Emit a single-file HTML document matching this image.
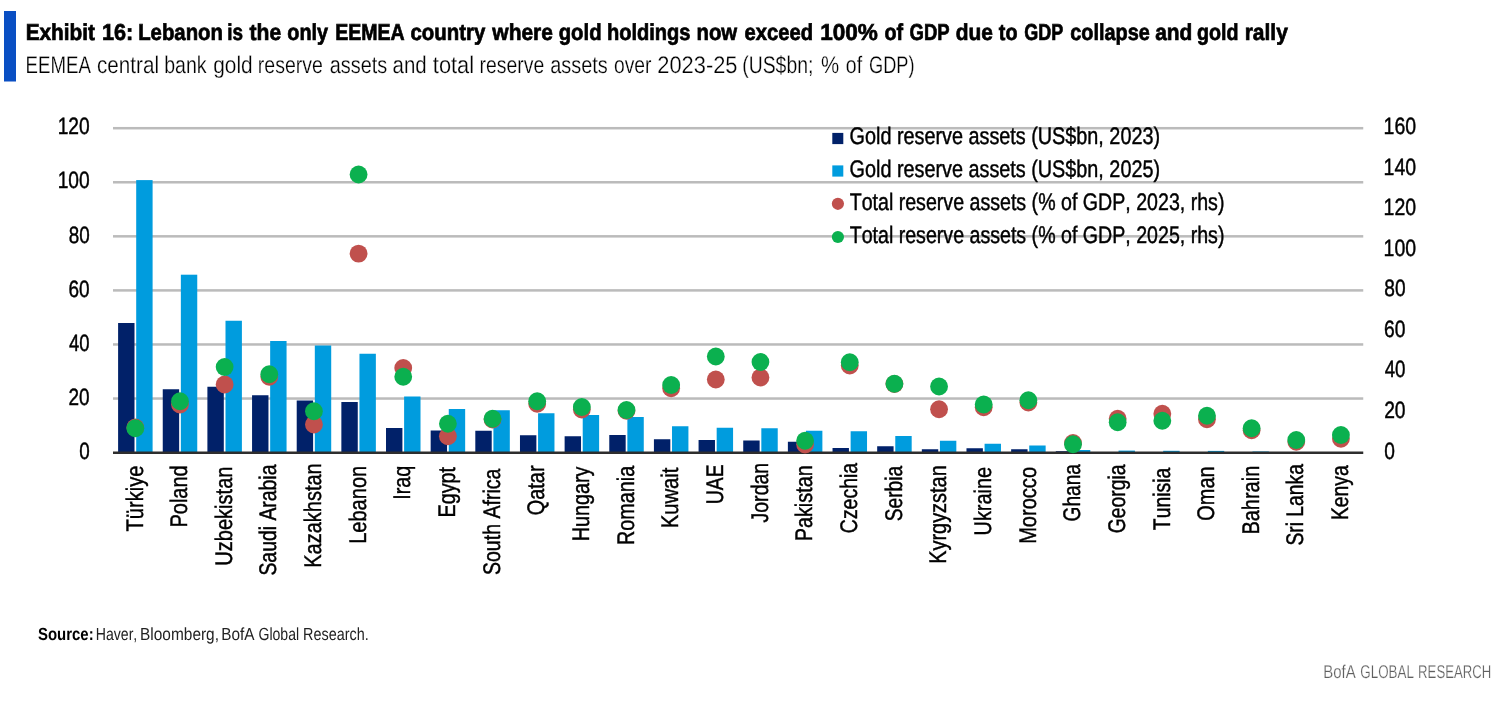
<!DOCTYPE html>
<html lang="en"><head><meta charset="utf-8"><title>Exhibit 16</title>
<style>
html,body{margin:0;padding:0;background:#fff;}
body{width:1502px;height:704px;overflow:hidden;}
svg{display:block;}
.ch text{stroke:#000;stroke-width:0.45px;}
.ttl text{stroke:#000;stroke-width:0.7px;}
.sub text{stroke:#fff;stroke-width:0.25px;}
svg text{font-family:"Liberation Sans",Arial,Helvetica,sans-serif;font-kerning:none;text-rendering:geometricPrecision;white-space:pre;}
</style></head><body>
<svg width="1502" height="704" viewBox="0 0 1502 704">
<rect width="1502" height="704" fill="#fff"/>
<rect x="4" y="11" width="12" height="70.5" fill="#0a4fc3"/>
<g class="ttl">
<text transform="translate(25.66 39.60) scale(0.9038 1)" font-size="23" font-weight="700" fill="#000">Exhibit</text>
<text transform="translate(101.93 39.60) scale(0.9432 1)" font-size="23" font-weight="700" fill="#000">16:</text>
<text transform="translate(138.19 39.60) scale(0.8846 1)" font-size="23" font-weight="700" fill="#000">Lebanon</text>
<text transform="translate(227.23 39.60) scale(0.8207 1)" font-size="23" font-weight="700" fill="#000">is</text>
<text transform="translate(249.54 39.60) scale(0.9168 1)" font-size="23" font-weight="700" fill="#000">the</text>
<text transform="translate(287.28 39.60) scale(0.8625 1)" font-size="23" font-weight="700" fill="#000">only</text>
<text transform="translate(335.24 39.60) scale(0.8494 1)" font-size="23" font-weight="700" fill="#000">EEMEA</text>
<text transform="translate(410.50 39.60) scale(0.8870 1)" font-size="23" font-weight="700" fill="#000">country</text>
<text transform="translate(492.36 39.60) scale(0.9110 1)" font-size="23" font-weight="700" fill="#000">where</text>
<text transform="translate(558.72 39.60) scale(0.8822 1)" font-size="23" font-weight="700" fill="#000">gold</text>
<text transform="translate(606.90 39.60) scale(0.8727 1)" font-size="23" font-weight="700" fill="#000">holdings</text>
<text transform="translate(696.46 39.60) scale(0.8850 1)" font-size="23" font-weight="700" fill="#000">now</text>
<text transform="translate(744.51 39.60) scale(0.8784 1)" font-size="23" font-weight="700" fill="#000">exceed</text>
<text transform="translate(820.13 39.60) scale(0.9803 1)" font-size="23" font-weight="700" fill="#000">100%</text>
<text transform="translate(884.53 39.60) scale(0.8583 1)" font-size="23" font-weight="700" fill="#000">of</text>
<text transform="translate(909.54 39.60) scale(0.8033 1)" font-size="23" font-weight="700" fill="#000">GDP</text>
<text transform="translate(955.69 39.60) scale(0.9104 1)" font-size="23" font-weight="700" fill="#000">due</text>
<text transform="translate(998.81 39.60) scale(0.8597 1)" font-size="23" font-weight="700" fill="#000">to</text>
<text transform="translate(1024.31 39.60) scale(0.7826 1)" font-size="23" font-weight="700" fill="#000">GDP</text>
<text transform="translate(1070.27 39.60) scale(0.8638 1)" font-size="23" font-weight="700" fill="#000">collapse</text>
<text transform="translate(1155.19 39.60) scale(0.9083 1)" font-size="23" font-weight="700" fill="#000">and</text>
<text transform="translate(1196.99 39.60) scale(0.8551 1)" font-size="23" font-weight="700" fill="#000">gold</text>
<text transform="translate(1244.67 39.60) scale(0.9119 1)" font-size="23" font-weight="700" fill="#000">rally</text>
</g>
<g class="sub">
<text transform="translate(25.62 72.50) scale(0.7768 1)" font-size="24" font-weight="400" fill="#000">EEMEA</text>
<text transform="translate(97.02 72.50) scale(0.8601 1)" font-size="24" font-weight="400" fill="#000">central</text>
<text transform="translate(164.14 72.50) scale(0.8153 1)" font-size="24" font-weight="400" fill="#000">bank</text>
<text transform="translate(213.27 72.50) scale(0.8687 1)" font-size="24" font-weight="400" fill="#000">gold</text>
<text transform="translate(257.85 72.50) scale(0.8137 1)" font-size="24" font-weight="400" fill="#000">reserve</text>
<text transform="translate(329.80 72.50) scale(0.8292 1)" font-size="24" font-weight="400" fill="#000">assets</text>
<text transform="translate(392.53 72.50) scale(0.8525 1)" font-size="24" font-weight="400" fill="#000">and</text>
<text transform="translate(432.82 72.50) scale(0.9091 1)" font-size="24" font-weight="400" fill="#000">total</text>
<text transform="translate(479.61 72.50) scale(0.8072 1)" font-size="24" font-weight="400" fill="#000">reserve</text>
<text transform="translate(550.30 72.50) scale(0.8292 1)" font-size="24" font-weight="400" fill="#000">assets</text>
<text transform="translate(613.99 72.50) scale(0.8039 1)" font-size="24" font-weight="400" fill="#000">over</text>
<text transform="translate(657.30 72.50) scale(0.9108 1)" font-size="24" font-weight="400" fill="#000">2023-25</text>
<text transform="translate(742.20 72.50) scale(0.8081 1)" font-size="24" font-weight="400" fill="#000">(US$bn;</text>
<text transform="translate(820.92 72.50) scale(0.8508 1)" font-size="24" font-weight="400" fill="#000">%</text>
<text transform="translate(845.83 72.50) scale(0.8113 1)" font-size="24" font-weight="400" fill="#000">of</text>
<text transform="translate(868.98 72.50) scale(0.7582 1)" font-size="24" font-weight="400" fill="#000">GDP)</text>
</g>
<rect x="113.0" y="397.28" width="1250.25" height="2.5" fill="#bbbbbb"/>
<rect x="113.0" y="343.22" width="1250.25" height="2.5" fill="#bbbbbb"/>
<rect x="113.0" y="289.15" width="1250.25" height="2.5" fill="#bbbbbb"/>
<rect x="113.0" y="235.08" width="1250.25" height="2.5" fill="#bbbbbb"/>
<rect x="113.0" y="181.02" width="1250.25" height="2.5" fill="#bbbbbb"/>
<rect x="113.0" y="126.95" width="1250.25" height="2.5" fill="#bbbbbb"/>
<rect x="118.10" y="323.00" width="16.4" height="129.60" fill="#012169"/>
<rect x="136.20" y="180.10" width="16.4" height="272.50" fill="#009cde"/>
<rect x="162.75" y="389.25" width="16.4" height="63.35" fill="#012169"/>
<rect x="180.85" y="274.70" width="16.4" height="177.90" fill="#009cde"/>
<rect x="207.40" y="386.75" width="16.4" height="65.85" fill="#012169"/>
<rect x="225.50" y="320.75" width="16.4" height="131.85" fill="#009cde"/>
<rect x="252.06" y="395.25" width="16.4" height="57.35" fill="#012169"/>
<rect x="270.16" y="341.00" width="16.4" height="111.60" fill="#009cde"/>
<rect x="296.71" y="400.50" width="16.4" height="52.10" fill="#012169"/>
<rect x="314.81" y="345.50" width="16.4" height="107.10" fill="#009cde"/>
<rect x="341.36" y="402.00" width="16.4" height="50.60" fill="#012169"/>
<rect x="359.46" y="353.75" width="16.4" height="98.85" fill="#009cde"/>
<rect x="386.01" y="428.00" width="16.4" height="24.60" fill="#012169"/>
<rect x="404.11" y="396.50" width="16.4" height="56.10" fill="#009cde"/>
<rect x="430.66" y="430.50" width="16.4" height="22.10" fill="#012169"/>
<rect x="448.76" y="409.00" width="16.4" height="43.60" fill="#009cde"/>
<rect x="475.31" y="430.75" width="16.4" height="21.85" fill="#012169"/>
<rect x="493.41" y="410.25" width="16.4" height="42.35" fill="#009cde"/>
<rect x="519.97" y="435.25" width="16.4" height="17.35" fill="#012169"/>
<rect x="538.07" y="413.25" width="16.4" height="39.35" fill="#009cde"/>
<rect x="564.62" y="436.25" width="16.4" height="16.35" fill="#012169"/>
<rect x="582.72" y="415.00" width="16.4" height="37.60" fill="#009cde"/>
<rect x="609.27" y="435.00" width="16.4" height="17.60" fill="#012169"/>
<rect x="627.37" y="417.00" width="16.4" height="35.60" fill="#009cde"/>
<rect x="653.92" y="439.25" width="16.4" height="13.35" fill="#012169"/>
<rect x="672.02" y="426.25" width="16.4" height="26.35" fill="#009cde"/>
<rect x="698.57" y="440.00" width="16.4" height="12.60" fill="#012169"/>
<rect x="716.67" y="427.75" width="16.4" height="24.85" fill="#009cde"/>
<rect x="743.23" y="440.50" width="16.4" height="12.10" fill="#012169"/>
<rect x="761.33" y="428.25" width="16.4" height="24.35" fill="#009cde"/>
<rect x="787.88" y="441.75" width="16.4" height="10.85" fill="#012169"/>
<rect x="805.98" y="430.75" width="16.4" height="21.85" fill="#009cde"/>
<rect x="832.53" y="448.00" width="16.4" height="4.60" fill="#012169"/>
<rect x="850.63" y="431.25" width="16.4" height="21.35" fill="#009cde"/>
<rect x="877.18" y="446.25" width="16.4" height="6.35" fill="#012169"/>
<rect x="895.28" y="436.00" width="16.4" height="16.60" fill="#009cde"/>
<rect x="921.83" y="449.25" width="16.4" height="3.35" fill="#012169"/>
<rect x="939.93" y="440.75" width="16.4" height="11.85" fill="#009cde"/>
<rect x="966.48" y="448.25" width="16.4" height="4.35" fill="#012169"/>
<rect x="984.58" y="443.75" width="16.4" height="8.85" fill="#009cde"/>
<rect x="1011.14" y="449.25" width="16.4" height="3.35" fill="#012169"/>
<rect x="1029.24" y="445.50" width="16.4" height="7.10" fill="#009cde"/>
<rect x="1055.79" y="451.20" width="16.4" height="1.40" fill="#012169"/>
<rect x="1073.89" y="450.00" width="16.4" height="2.60" fill="#009cde"/>
<rect x="1100.44" y="452.20" width="16.4" height="0.40" fill="#012169"/>
<rect x="1118.54" y="450.60" width="16.4" height="2.00" fill="#009cde"/>
<rect x="1145.09" y="452.30" width="16.4" height="0.30" fill="#012169"/>
<rect x="1163.19" y="450.80" width="16.4" height="1.80" fill="#009cde"/>
<rect x="1189.74" y="452.30" width="16.4" height="0.30" fill="#012169"/>
<rect x="1207.84" y="450.90" width="16.4" height="1.70" fill="#009cde"/>
<rect x="1234.39" y="452.40" width="16.4" height="0.20" fill="#012169"/>
<rect x="1252.49" y="451.50" width="16.4" height="1.10" fill="#009cde"/>
<rect x="1297.15" y="452.30" width="16.4" height="0.30" fill="#009cde"/>
<rect x="1341.80" y="452.40" width="16.4" height="0.20" fill="#009cde"/>
<rect x="113.0" y="451.50" width="1250.25" height="2.5" fill="#2e2e2e"/>
<circle cx="135.33" cy="427.50" r="8.9" fill="#c0504d"/>
<circle cx="179.98" cy="404.50" r="8.9" fill="#c0504d"/>
<circle cx="224.63" cy="384.50" r="8.9" fill="#c0504d"/>
<circle cx="269.28" cy="376.75" r="8.9" fill="#c0504d"/>
<circle cx="313.93" cy="424.50" r="8.9" fill="#c0504d"/>
<circle cx="358.58" cy="253.60" r="8.9" fill="#c0504d"/>
<circle cx="403.24" cy="368.00" r="8.9" fill="#c0504d"/>
<circle cx="447.89" cy="436.25" r="8.9" fill="#c0504d"/>
<circle cx="492.54" cy="419.50" r="8.9" fill="#c0504d"/>
<circle cx="537.19" cy="403.75" r="8.9" fill="#c0504d"/>
<circle cx="581.84" cy="409.50" r="8.9" fill="#c0504d"/>
<circle cx="626.50" cy="410.75" r="8.9" fill="#c0504d"/>
<circle cx="671.15" cy="388.25" r="8.9" fill="#c0504d"/>
<circle cx="715.80" cy="379.50" r="8.9" fill="#c0504d"/>
<circle cx="760.45" cy="377.50" r="8.9" fill="#c0504d"/>
<circle cx="805.10" cy="444.50" r="8.9" fill="#c0504d"/>
<circle cx="849.75" cy="365.50" r="8.9" fill="#c0504d"/>
<circle cx="894.41" cy="384.00" r="8.9" fill="#c0504d"/>
<circle cx="939.06" cy="409.25" r="8.9" fill="#c0504d"/>
<circle cx="983.71" cy="407.25" r="8.9" fill="#c0504d"/>
<circle cx="1028.36" cy="402.50" r="8.9" fill="#c0504d"/>
<circle cx="1073.01" cy="443.00" r="8.9" fill="#c0504d"/>
<circle cx="1117.67" cy="418.75" r="8.9" fill="#c0504d"/>
<circle cx="1162.32" cy="413.75" r="8.9" fill="#c0504d"/>
<circle cx="1206.97" cy="419.25" r="8.9" fill="#c0504d"/>
<circle cx="1251.62" cy="430.25" r="8.9" fill="#c0504d"/>
<circle cx="1296.27" cy="441.75" r="8.9" fill="#c0504d"/>
<circle cx="1340.92" cy="438.75" r="8.9" fill="#c0504d"/>
<circle cx="135.33" cy="428.25" r="8.9" fill="#0bb04f"/>
<circle cx="179.98" cy="401.25" r="8.9" fill="#0bb04f"/>
<circle cx="224.63" cy="367.00" r="8.9" fill="#0bb04f"/>
<circle cx="269.28" cy="374.25" r="8.9" fill="#0bb04f"/>
<circle cx="313.93" cy="411.25" r="8.9" fill="#0bb04f"/>
<circle cx="358.58" cy="174.50" r="8.9" fill="#0bb04f"/>
<circle cx="403.24" cy="376.75" r="8.9" fill="#0bb04f"/>
<circle cx="447.89" cy="423.75" r="8.9" fill="#0bb04f"/>
<circle cx="492.54" cy="418.75" r="8.9" fill="#0bb04f"/>
<circle cx="537.19" cy="401.25" r="8.9" fill="#0bb04f"/>
<circle cx="581.84" cy="407.00" r="8.9" fill="#0bb04f"/>
<circle cx="626.50" cy="410.00" r="8.9" fill="#0bb04f"/>
<circle cx="671.15" cy="385.00" r="8.9" fill="#0bb04f"/>
<circle cx="715.80" cy="356.50" r="8.9" fill="#0bb04f"/>
<circle cx="760.45" cy="362.00" r="8.9" fill="#0bb04f"/>
<circle cx="805.10" cy="440.75" r="8.9" fill="#0bb04f"/>
<circle cx="849.75" cy="362.25" r="8.9" fill="#0bb04f"/>
<circle cx="894.41" cy="383.75" r="8.9" fill="#0bb04f"/>
<circle cx="939.06" cy="386.50" r="8.9" fill="#0bb04f"/>
<circle cx="983.71" cy="404.50" r="8.9" fill="#0bb04f"/>
<circle cx="1028.36" cy="400.25" r="8.9" fill="#0bb04f"/>
<circle cx="1073.01" cy="444.25" r="8.9" fill="#0bb04f"/>
<circle cx="1117.67" cy="422.25" r="8.9" fill="#0bb04f"/>
<circle cx="1162.32" cy="420.75" r="8.9" fill="#0bb04f"/>
<circle cx="1206.97" cy="415.75" r="8.9" fill="#0bb04f"/>
<circle cx="1251.62" cy="428.25" r="8.9" fill="#0bb04f"/>
<circle cx="1296.27" cy="440.00" r="8.9" fill="#0bb04f"/>
<circle cx="1340.92" cy="435.00" r="8.9" fill="#0bb04f"/>
<g class="ch">
<text transform="translate(79.16 458.80) scale(0.8012 1)" font-size="23.5" font-weight="400" fill="#000">0</text>
<text transform="translate(68.55 404.73) scale(0.8070 1)" font-size="23.5" font-weight="400" fill="#000">20</text>
<text transform="translate(69.08 350.67) scale(0.7860 1)" font-size="23.5" font-weight="400" fill="#000">40</text>
<text transform="translate(68.54 296.60) scale(0.8074 1)" font-size="23.5" font-weight="400" fill="#000">60</text>
<text transform="translate(68.68 242.53) scale(0.8017 1)" font-size="23.5" font-weight="400" fill="#000">80</text>
<text transform="translate(57.64 188.47) scale(0.8164 1)" font-size="23.5" font-weight="400" fill="#000">100</text>
<text transform="translate(57.64 134.40) scale(0.8164 1)" font-size="23.5" font-weight="400" fill="#000">120</text>
<text transform="translate(1384.35 458.50) scale(0.8145 1)" font-size="23.5" font-weight="400" fill="#000">0</text>
<text transform="translate(1384.13 417.95) scale(0.8195 1)" font-size="23.5" font-weight="400" fill="#000">20</text>
<text transform="translate(1384.67 377.40) scale(0.7982 1)" font-size="23.5" font-weight="400" fill="#000">40</text>
<text transform="translate(1384.12 336.85) scale(0.8199 1)" font-size="23.5" font-weight="400" fill="#000">60</text>
<text transform="translate(1384.27 296.30) scale(0.8141 1)" font-size="23.5" font-weight="400" fill="#000">80</text>
<text transform="translate(1383.62 255.75) scale(0.8288 1)" font-size="23.5" font-weight="400" fill="#000">100</text>
<text transform="translate(1383.62 215.20) scale(0.8288 1)" font-size="23.5" font-weight="400" fill="#000">120</text>
<text transform="translate(1383.62 174.65) scale(0.8288 1)" font-size="23.5" font-weight="400" fill="#000">140</text>
<text transform="translate(1383.62 134.10) scale(0.8288 1)" font-size="23.5" font-weight="400" fill="#000">160</text>
<rect x="832.3" y="132.9" width="11" height="11.2" fill="#012169"/>
<rect x="832.3" y="165.4" width="11" height="11.2" fill="#009cde"/>
<circle cx="837.9" cy="203.8" r="6.1" fill="#c0504d"/>
<circle cx="837.9" cy="237" r="6.1" fill="#0bb04f"/>
<text transform="translate(849.60 144.10) scale(0.8252 1)" font-size="24" font-weight="400" fill="#000">Gold reserve assets (US$bn, 2023)</text>
<text transform="translate(849.60 177.10) scale(0.8252 1)" font-size="24" font-weight="400" fill="#000">Gold reserve assets (US$bn, 2025)</text>
<text transform="translate(849.66 210.10) scale(0.8168 1)" font-size="24" font-weight="400" fill="#000">Total reserve assets (% of GDP, 2023, rhs)</text>
<text transform="translate(849.66 242.90) scale(0.8168 1)" font-size="24" font-weight="400" fill="#000">Total reserve assets (% of GDP, 2025, rhs)</text>
<text transform="translate(142.53 531.40) rotate(-90) scale(0.8356 1)" font-size="24" fill="#000">Türkiye</text>
<text transform="translate(187.18 527.59) rotate(-90) scale(0.8341 1)" font-size="24" fill="#000">Poland</text>
<text transform="translate(231.83 565.75) rotate(-90) scale(0.8360 1)" font-size="24" fill="#000">Uzbekistan</text>
<text transform="translate(276.48 575.58) rotate(-90) scale(0.8079 1)" font-size="24" fill="#000">Saudi Arabia</text>
<text transform="translate(321.13 567.84) rotate(-90) scale(0.8340 1)" font-size="24" fill="#000">Kazakhstan</text>
<text transform="translate(365.78 543.85) rotate(-90) scale(0.8359 1)" font-size="24" fill="#000">Lebanon</text>
<text transform="translate(410.44 499.77) rotate(-90) scale(0.8217 1)" font-size="24" fill="#000">Iraq</text>
<text transform="translate(455.09 517.58) rotate(-90) scale(0.8256 1)" font-size="24" fill="#000">Egypt</text>
<text transform="translate(499.74 575.09) rotate(-90) scale(0.8149 1)" font-size="24" fill="#000">South Africa</text>
<text transform="translate(544.39 515.14) rotate(-90) scale(0.8275 1)" font-size="24" fill="#000">Qatar</text>
<text transform="translate(589.04 541.32) rotate(-90) scale(0.8247 1)" font-size="24" fill="#000">Hungary</text>
<text transform="translate(633.70 545.07) rotate(-90) scale(0.8254 1)" font-size="24" fill="#000">Romania</text>
<text transform="translate(678.35 528.36) rotate(-90) scale(0.8427 1)" font-size="24" fill="#000">Kuwait</text>
<text transform="translate(723.00 504.19) rotate(-90) scale(0.8049 1)" font-size="24" fill="#000">UAE</text>
<text transform="translate(767.65 522.51) rotate(-90) scale(0.8139 1)" font-size="24" fill="#000">Jordan</text>
<text transform="translate(812.30 541.33) rotate(-90) scale(0.8263 1)" font-size="24" fill="#000">Pakistan</text>
<text transform="translate(856.95 533.19) rotate(-90) scale(0.8118 1)" font-size="24" fill="#000">Czechia</text>
<text transform="translate(901.61 521.32) rotate(-90) scale(0.8003 1)" font-size="24" fill="#000">Serbia</text>
<text transform="translate(946.26 563.83) rotate(-90) scale(0.8304 1)" font-size="24" fill="#000">Kyrgyzstan</text>
<text transform="translate(990.91 535.49) rotate(-90) scale(0.8291 1)" font-size="24" fill="#000">Ukraine</text>
<text transform="translate(1035.56 543.84) rotate(-90) scale(0.8355 1)" font-size="24" fill="#000">Morocco</text>
<text transform="translate(1080.21 521.41) rotate(-90) scale(0.7960 1)" font-size="24" fill="#000">Ghana</text>
<text transform="translate(1124.87 533.17) rotate(-90) scale(0.8037 1)" font-size="24" fill="#000">Georgia</text>
<text transform="translate(1169.52 530.13) rotate(-90) scale(0.8057 1)" font-size="24" fill="#000">Tunisia</text>
<text transform="translate(1214.17 520.64) rotate(-90) scale(0.8283 1)" font-size="24" fill="#000">Oman</text>
<text transform="translate(1258.82 534.59) rotate(-90) scale(0.8321 1)" font-size="24" fill="#000">Bahrain</text>
<text transform="translate(1303.47 545.58) rotate(-90) scale(0.8041 1)" font-size="24" fill="#000">Sri Lanka</text>
<text transform="translate(1348.12 520.03) rotate(-90) scale(0.8043 1)" font-size="24" fill="#000">Kenya</text>
</g>
<text transform="translate(37.97 640.00) scale(0.8544 1)" font-size="17.5" font-weight="700" fill="#000">Source:</text>
<g class="ft">
<text transform="translate(95.74 640.00) scale(0.8056 1)" font-size="17.5" font-weight="400" fill="#222">Haver,</text>
<text transform="translate(140.03 640.00) scale(0.8823 1)" font-size="17.5" font-weight="400" fill="#222">Bloomberg,</text>
<text transform="translate(221.24 640.00) scale(0.8774 1)" font-size="17.5" font-weight="400" fill="#222">BofA</text>
<text transform="translate(258.49 640.00) scale(0.8035 1)" font-size="17.5" font-weight="400" fill="#222">Global</text>
<text transform="translate(303.12 640.00) scale(0.8224 1)" font-size="17.5" font-weight="400" fill="#222">Research.</text>
</g>
<g class="sub">
<text transform="translate(1323.17 677.90) scale(0.8093 1)" font-size="18.5" font-weight="400" fill="#606060">BofA</text>
<text transform="translate(1360.33 677.90) scale(0.7228 1)" font-size="18.5" font-weight="400" fill="#606060">GLOBAL</text>
<text transform="translate(1418.12 677.90) scale(0.7106 1)" font-size="18.5" font-weight="400" fill="#606060">RESEARCH</text>
</g>
</svg>
</body></html>
